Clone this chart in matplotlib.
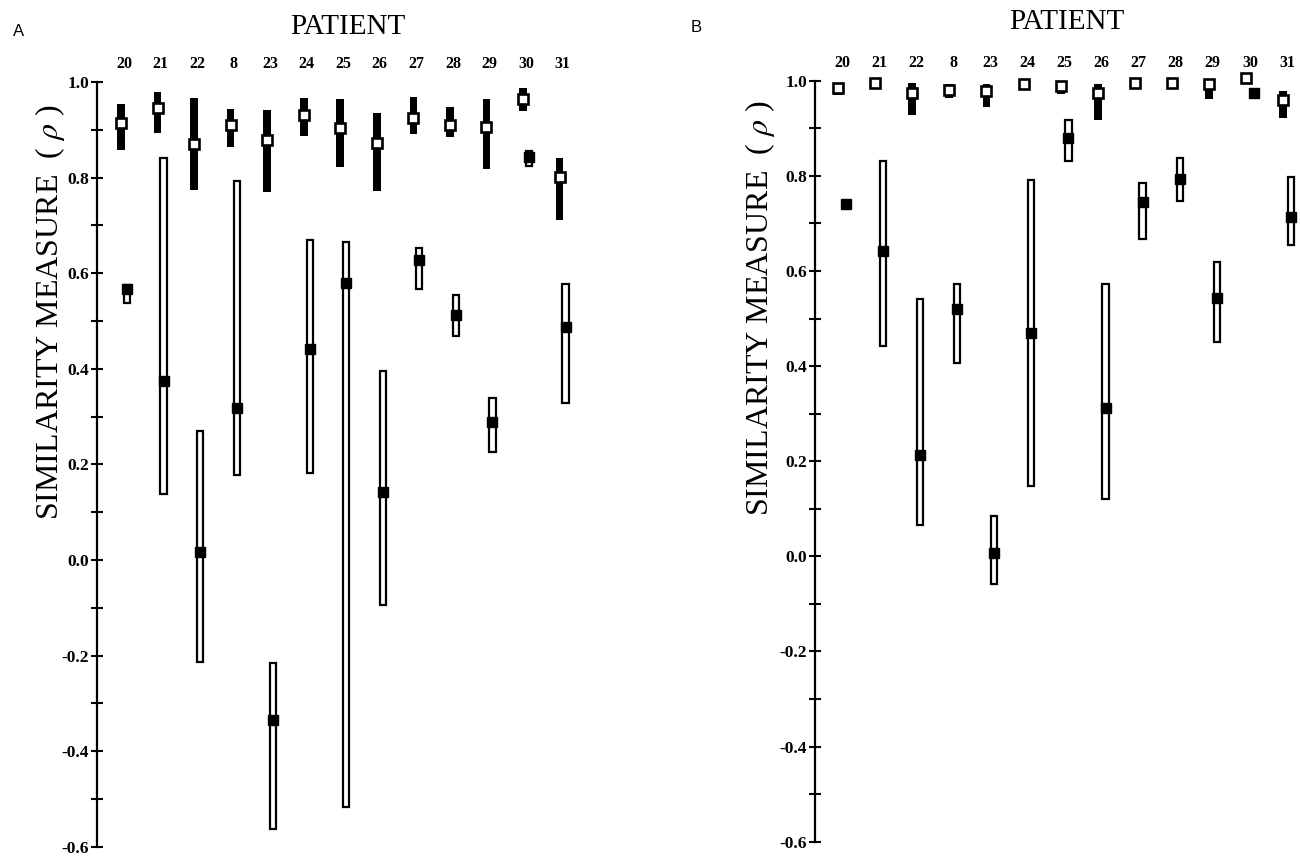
import numpy as np
import matplotlib
matplotlib.use("Agg")
import matplotlib.pyplot as plt
from matplotlib.ticker import MultipleLocator, FormatStrFormatter

plt.rcParams['font.family'] = ['Liberation Serif', 'DejaVu Serif']
plt.rcParams['mathtext.fontset'] = 'stix'
plt.rcParams['axes.unicode_minus'] = False

patients = ['20', '21', '22', '8', '23', '24', '25', '26', '27', '28', '29', '30', '31']

# panel A : open square + black bar
a_open_mid = [0.915, 0.946, 0.870, 0.909, 0.879, 0.931, 0.904, 0.873, 0.925, 0.910, 0.906, 0.964, 0.801]
a_open_lo = [0.858, 0.894, 0.774, 0.863, 0.770, 0.888, 0.822, 0.772, 0.891, 0.884, 0.817, 0.940, 0.711]
a_open_hi = [0.955, 0.980, 0.967, 0.944, 0.941, 0.966, 0.964, 0.936, 0.969, 0.948, 0.964, 0.987, 0.842]
# panel A : filled square + hollow bar
a_fill_mid = [0.566, 0.374, 0.017, 0.317, -0.336, 0.441, 0.580, 0.143, 0.628, 0.513, 0.289, 0.844, 0.488]
a_fill_lo = [0.537, 0.138, -0.214, 0.178, -0.563, 0.181, -0.516, -0.094, 0.567, 0.469, 0.226, 0.824, 0.328]
a_fill_hi = [0.575, 0.842, 0.270, 0.793, -0.216, 0.669, 0.666, 0.396, 0.652, 0.554, 0.338, 0.855, 0.577]

# panel B : open square + black bar
b_open_mid = [0.984, 0.996, 0.975, 0.980, 0.978, 0.993, 0.989, 0.975, 0.995, 0.995, 0.994, 1.005, 0.959]
b_open_lo = [0.969, 0.996, 0.928, 0.963, 0.945, 0.993, 0.972, 0.917, 0.995, 0.995, 0.961, 1.005, 0.922]
b_open_hi = [0.996, 0.996, 0.996, 0.993, 0.993, 0.993, 0.999, 0.993, 0.995, 0.995, 0.998, 1.005, 0.979]
# panel B : filled square + hollow bar
b_fill_mid = [0.741, 0.643, 0.214, 0.521, 0.007, 0.469, 0.879, 0.311, 0.745, 0.794, 0.543, 0.975, 0.714]
b_fill_lo = [0.741, 0.443, 0.065, 0.407, -0.058, 0.148, 0.831, 0.120, 0.668, 0.748, 0.450, 0.975, 0.655]
b_fill_hi = [0.741, 0.831, 0.542, 0.573, 0.085, 0.792, 0.917, 0.572, 0.785, 0.838, 0.618, 0.975, 0.798]


def draw_panel(ax, omid, olo, ohi, fmid, flo, fhi, off, xlim):
    x = np.arange(len(patients))
    olo = np.array(olo); ohi = np.array(ohi)
    flo = np.array(flo); fhi = np.array(fhi)
    # black bars (open markers)
    ax.bar(x - off, ohi - olo, bottom=olo, width=0.21, color='black',
           linewidth=0, clip_on=False, zorder=2)
    # hollow bars (filled markers)
    hb = ax.bar(x + off, fhi - flo, bottom=flo, width=0.17, facecolor='white',
                edgecolor='black', linewidth=1.6, clip_on=False, zorder=2)
    for r, h in zip(hb, fhi - flo):
        if h <= 0:
            r.set_visible(False)
    ax.plot(x - off, omid, 's', ms=7.5, mfc='white', mec='black', mew=1.9,
            clip_on=False, zorder=3)
    ax.plot(x + off, fmid, 's', ms=7.5, mfc='black', mec='black', mew=1,
            clip_on=False, zorder=3)

    ax.set_ylim(-0.6, 1.0)
    ax.set_xlim(*xlim)
    for s in ['top', 'right', 'bottom']:
        ax.spines[s].set_visible(False)
    ax.spines['left'].set_linewidth(1.6)
    ax.yaxis.set_major_locator(MultipleLocator(0.2))
    ax.yaxis.set_minor_locator(MultipleLocator(0.1))
    ax.yaxis.set_major_formatter(FormatStrFormatter('%.1f'))
    ax.tick_params(axis='y', which='both', direction='inout', length=9,
                   width=1.5, pad=1, labelsize=12.5)
    for t in ax.get_yticklabels():
        t.set_fontweight('bold')
    ax.xaxis.tick_top()
    ax.set_xticks(x)
    ax.set_xticklabels(patients, fontsize=11.5, fontweight='bold')
    ax.tick_params(axis='x', length=0, pad=7)
    ax.patch.set_visible(False)


fig = plt.figure(figsize=(13, 8.56), dpi=100)

axA = fig.add_axes([0.0746, 0.0109, 0.375, 0.8933])
draw_panel(axA, a_open_mid, a_open_lo, a_open_hi,
           a_fill_mid, a_fill_lo, a_fill_hi, 0.082, (-0.74, 12.6))

axB = fig.add_axes([0.6269, 0.0167, 0.3731, 0.889])
draw_panel(axB, b_open_mid, b_open_lo, b_open_hi,
           b_fill_mid, b_fill_lo, b_fill_hi, 0.105, (-0.73, 12.35))

ylab = r'SIMILARITY MEASURE  ( $\rho$ )'
fig.text(50 / 1300, 1 - 312 / 856, ylab, rotation=90, fontsize=23,
         ha='center', va='center')
fig.text(760 / 1300, 1 - 308 / 856, ylab, rotation=90, fontsize=23,
         ha='center', va='center')

fig.text(348 / 1300, 1 - 27 / 856, 'PATIENT', fontsize=21, ha='center', va='center')
fig.text(1067 / 1300, 1 - 22 / 856, 'PATIENT', fontsize=21, ha='center', va='center')

fig.text(19 / 1300, 1 - 32 / 856, 'A', fontsize=12, ha='center', va='center',
         family=['Liberation Sans', 'DejaVu Sans'])
fig.text(696 / 1300, 1 - 28 / 856, 'B', fontsize=12, ha='center', va='center',
         family=['Liberation Sans', 'DejaVu Sans'])

fig.savefig('out.png', dpi=100)
